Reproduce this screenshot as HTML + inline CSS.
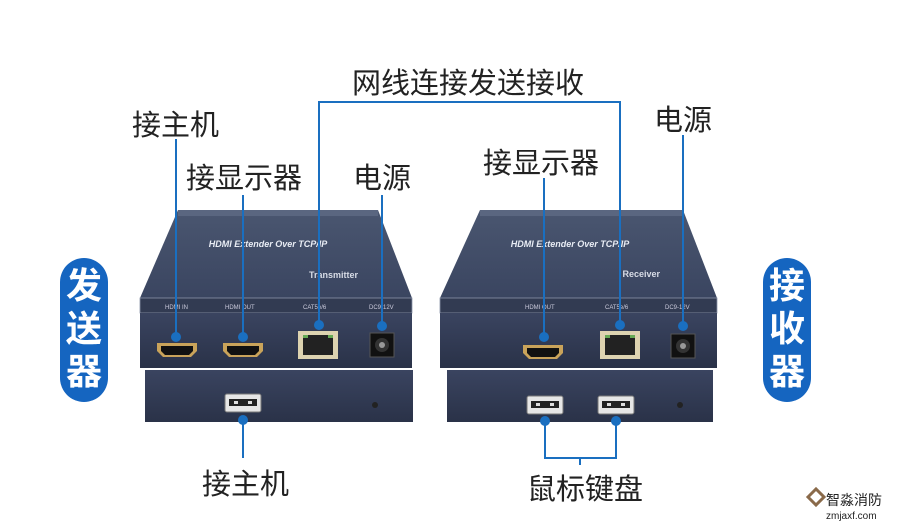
<!DOCTYPE html><html><head><meta charset="utf-8"><style>
body{margin:0;width:916px;height:529px;background:#fff;overflow:hidden}
svg{display:block}
text{font-family:"Liberation Sans","Noto Sans CJK SC",sans-serif}
</style></head><body>
<svg width="916" height="529" viewBox="0 0 916 529">
<defs>
<linearGradient id="tf" x1="0" y1="0" x2="0" y2="1"><stop offset="0" stop-color="#4a5670"/><stop offset="1" stop-color="#3a4560"/></linearGradient>
<linearGradient id="fp" x1="0" y1="0" x2="0" y2="1"><stop offset="0" stop-color="#3a4460"/><stop offset="1" stop-color="#2a3248"/></linearGradient>
<g id="hdmi"><path d="M-20,-7 h40 v8 l-6,6 h-28 l-6,-6z" fill="#c9a35a"/><path d="M-16,-4 h32 v5 l-4,4 h-24 l-4,-4z" fill="#111"/></g>
<g id="rj"><rect x="-20" y="-14" width="40" height="28" fill="#ddd3b0"/><rect x="-15" y="-10" width="30" height="20" fill="#222"/><rect x="-15" y="-10" width="5" height="3" fill="#6a5"/><rect x="10" y="-10" width="5" height="3" fill="#6a5"/></g>
<g id="dc"><rect x="-12" y="-12" width="24" height="24" fill="#111" stroke="#555"/><circle r="7" fill="#333"/><circle r="3" fill="#999"/></g>
<g id="usb"><rect x="-18" y="-9" width="36" height="18" rx="2" fill="#e6e6e6" stroke="#777"/><rect x="-14" y="-4" width="28" height="7" fill="#222"/><rect x="-9" y="-2" width="4" height="3" fill="#ddd"/><rect x="5" y="-2" width="4" height="3" fill="#ddd"/></g>
</defs>

<!-- left device -->
<polygon points="178,210 378,210 412,298 140,298" fill="url(#tf)"/>
<rect x="178" y="210" width="200" height="6" fill="#5a6680"/>
<text x="268" y="247" font-size="9" font-style="italic" font-weight="bold" fill="#e8ecf4" text-anchor="middle">HDMI Extender Over TCP/IP</text>
<text x="358" y="278" font-size="9" font-weight="bold" fill="#d8dce6" text-anchor="end">Transmitter</text>
<rect x="140" y="298" width="272" height="15" fill="#323b52" stroke="#8a93a8" stroke-width="0.8"/>
<text x="165" y="309" font-size="6" fill="#ccd" >HDMI IN</text>
<text x="225" y="309" font-size="6" fill="#ccd">HDMI OUT</text>
<text x="303" y="309" font-size="6" fill="#ccd">CAT5e/6</text>
<text x="369" y="309" font-size="6" fill="#ccd">DC9-12V</text>
<rect x="140" y="313" width="272" height="55" fill="url(#fp)"/>
<use href="#hdmi" x="177" y="350"/><use href="#hdmi" x="243" y="350"/>
<use href="#rj" x="318" y="345"/><use href="#dc" x="382" y="345"/>
<rect x="145" y="370" width="268" height="52" fill="url(#fp)"/>
<use href="#usb" x="243" y="403"/><circle cx="375" cy="405" r="3" fill="#222"/>

<!-- right device -->
<polygon points="480,210 683,210 717,298 440,298" fill="url(#tf)"/>
<rect x="480" y="210" width="203" height="6" fill="#5a6680"/>
<text x="570" y="247" font-size="9" font-style="italic" font-weight="bold" fill="#e8ecf4" text-anchor="middle">HDMI Extender Over TCP/IP</text>
<text x="660" y="277" font-size="9" font-weight="bold" fill="#d8dce6" text-anchor="end">Receiver</text>
<rect x="440" y="298" width="277" height="15" fill="#323b52" stroke="#8a93a8" stroke-width="0.8"/>
<text x="525" y="309" font-size="6" fill="#ccd">HDMI OUT</text>
<text x="605" y="309" font-size="6" fill="#ccd">CAT5e/6</text>
<text x="665" y="309" font-size="6" fill="#ccd">DC9-12V</text>
<rect x="440" y="313" width="277" height="55" fill="url(#fp)"/>
<use href="#hdmi" x="543" y="352"/><use href="#rj" x="620" y="345"/><use href="#dc" x="683" y="346"/>
<rect x="447" y="370" width="266" height="52" fill="url(#fp)"/>
<use href="#usb" x="545" y="405"/><use href="#usb" x="616" y="405"/><circle cx="680" cy="405" r="3" fill="#222"/>

<!-- lines -->
<g stroke="#1a6fc0" stroke-width="2" fill="none">
<line x1="176" y1="139" x2="176" y2="337"/>
<line x1="243" y1="195" x2="243" y2="337"/>
<polyline points="319,325 319,102 620,102 620,325"/>
<line x1="382" y1="195" x2="382" y2="326"/>
<line x1="544" y1="178" x2="544" y2="337"/>
<line x1="683" y1="135" x2="683" y2="326"/>
<line x1="243" y1="420" x2="243" y2="458"/>
<polyline points="545,420 545,458 616,458 616,420"/>
<line x1="580" y1="458" x2="580" y2="465"/>
</g>
<g fill="#1a6fc0">
<circle cx="176" cy="337" r="5"/><circle cx="243" cy="337" r="5"/><circle cx="319" cy="325" r="5"/><circle cx="382" cy="326" r="5"/>
<circle cx="544" cy="337" r="5"/><circle cx="620" cy="325" r="5"/><circle cx="683" cy="326" r="5"/>
<circle cx="243" cy="420" r="5"/><circle cx="545" cy="421" r="5"/><circle cx="616" cy="421" r="5"/>
</g>

<!-- labels -->
<g font-size="29" fill="#222">
<text x="352" y="93">网线连接发送接收</text>
<text x="132" y="135">接主机</text>
<text x="186" y="188">接显示器</text>
<text x="353" y="188">电源</text>
<text x="483" y="173">接显示器</text>
<text x="654" y="130">电源</text>
<text x="202" y="494">接主机</text>
<text x="527" y="499">鼠标键盘</text>
</g>

<!-- pills -->
<rect x="60" y="258" width="48" height="144" rx="24" fill="#1565c0"/>
<rect x="763" y="258" width="48" height="144" rx="24" fill="#1565c0"/>
<g font-size="36" font-weight="bold" fill="#fff" text-anchor="middle">
<text x="84" y="298">发</text><text x="84" y="341">送</text><text x="84" y="384">器</text>
<text x="787" y="298">接</text><text x="787" y="341">收</text><text x="787" y="384">器</text>
</g>

<!-- logo -->
<path d="M808,497 l8,-8 l8,8 l-8,8z" fill="none" stroke="#8a6a4a" stroke-width="3"/>
<text x="826" y="505" font-size="14" fill="#222">智淼消防</text>
<text x="826" y="519" font-size="10" fill="#222" font-family="Liberation Mono,monospace">zmjaxf.com</text>
</svg>
</body></html>
